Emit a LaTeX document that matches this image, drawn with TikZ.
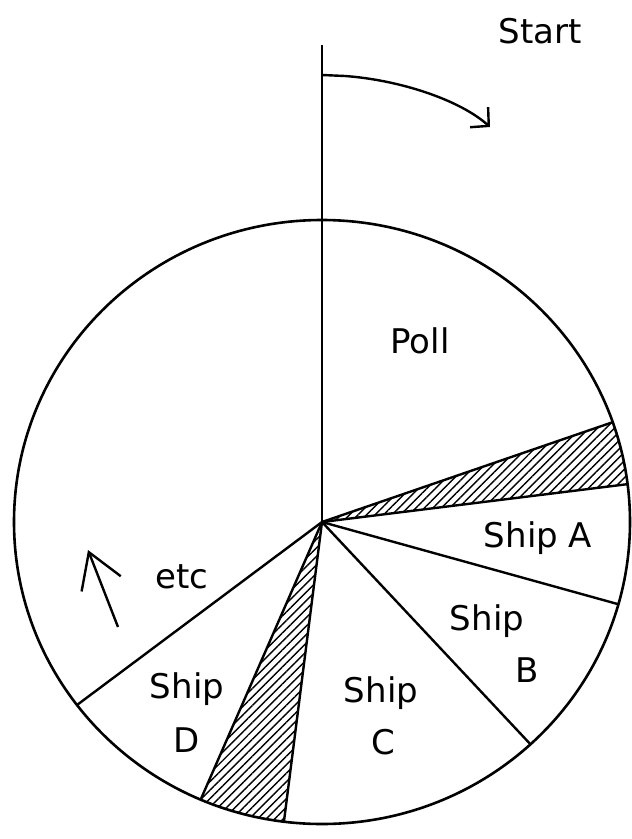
\documentclass[tikz,border=0pt]{standalone}
\usepackage{fontspec}
\setmainfont{DejaVu Sans}
\usetikzlibrary{arrows.meta,patterns.meta}
\tikzset{
  rim/.style={line width=2.6pt},
  spoke/.style={line width=2.4pt},
  slot/.style={pattern={Lines[angle=45,distance=6pt,line width=1.4pt]}},
  lbl/.style={font=\fontsize{34}{40}\selectfont, anchor=base, inner sep=0pt},
  turn/.style={line width=2.4pt, -{Straight Barb[length=13pt,width=27pt]}},
  hint/.style={line width=2.4pt, -{Straight Barb[length=34pt,width=42pt]}},
}

\begin{document}
\begin{tikzpicture}[x=1pt,y=-1pt]
  \useasboundingbox (0,0) rectangle (632,839);
  \coordinate (hub) at (322,522);
  \coordinate (pole) at (322,45);

  % hatched slots
  \fill[slot] (hub) -- +(-19.3:308 and 302)
    arc[start angle=-19.3, end angle=-7.2, x radius=308, y radius=302] -- cycle;
  \fill[slot] (hub) -- +(97.1:308 and 302)
    arc[start angle=97.1, end angle=113.2, x radius=308, y radius=302] -- cycle;

  % wheel
  \draw[rim] (hub) ellipse[x radius=308, y radius=302];
  \foreach \a in {-19.3,-7.2,15.8,47.4,97.1,113.2,142.7}
    \draw[spoke] (hub) -- +(\a:308 and 302);
  \draw[spoke] (pole) -- (hub);

  % direction of rotation
  \coordinate (turnA) at (322,75);
  \coordinate (turnB) at (490,127);
  \draw[turn] (turnA) -- (345,76) .. controls (400,80) and (460,100) .. (turnB);
  \coordinate (etcTail) at (118,627);
  \coordinate (etcTip) at (88,550);
  \draw[hint] (etcTail) -- (etcTip);

  \node[lbl] (start) at (540,43) {Start};
  \node[lbl] (poll) at (420,353) {Poll};
  \node[lbl] (shipA) at (538,547) {Ship A};
  \node[lbl] (shipB) at (487,630) {Ship};
  \node[lbl] (shipBid) at (527,682) {B};
  \node[lbl] (shipC) at (381,702) {Ship};
  \node[lbl] (shipCid) at (383,754) {C};
  \node[lbl] (shipD) at (187,698) {Ship};
  \node[lbl] (shipDid) at (187,752) {D};
  \node[lbl] (etc) at (182,588) {etc};
\end{tikzpicture}
\end{document}
